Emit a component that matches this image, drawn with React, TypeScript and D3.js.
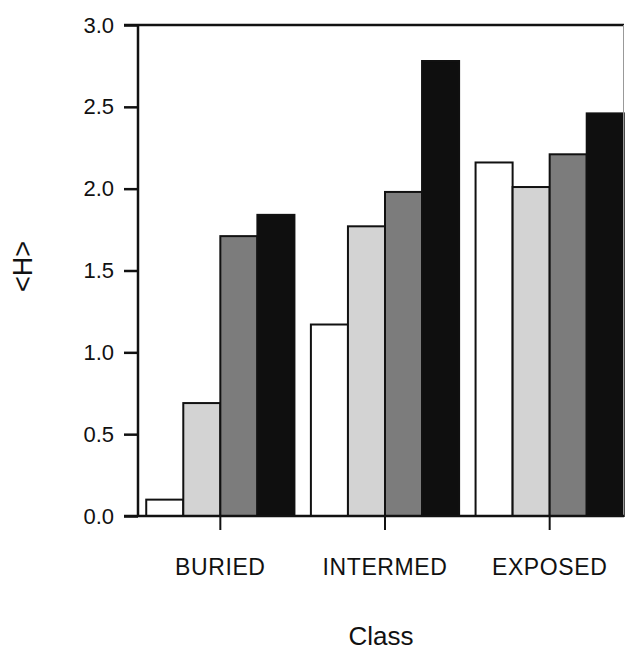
import React, { useEffect, useRef } from 'react';
import * as d3 from 'd3';

const classes = ['BURIED', 'INTERMED', 'EXPOSED'];
const seriesKeys = ['s1', 's2', 's3', 's4'];
const s1 = [0.10, 1.17, 2.16];
const s2 = [0.69, 1.77, 2.01];
const s3 = [1.71, 1.98, 2.21];
const s4 = [1.84, 2.78, 2.46];
const yTicks = [0, 0.5, 1.0, 1.5, 2.0, 2.5, 3.0];
const fills = ['#ffffff', '#d3d3d3', '#7c7c7c', '#0f0f0f'];

const WIDTH = 625;
const HEIGHT = 652;
const MARGIN = { top: 25, left: 138, bottom: 136, right: 1 };
const FONT = '"Liberation Sans", Arial, Helvetica, sans-serif';

const App: React.FC = () => {
  const svgRef = useRef<SVGSVGElement>(null);

  useEffect(() => {
    const svg = d3.select(svgRef.current);
    svg.selectAll('*').remove();

    const bottom = HEIGHT - MARGIN.bottom;
    const right = WIDTH - MARGIN.right;

    const yScale = d3.scaleLinear().domain([0, 3]).range([bottom, MARGIN.top]);
    const x0 = d3.scaleBand<string>()
      .domain(classes)
      .range([MARGIN.left, 632])
      .paddingInner(0.1)
      .paddingOuter(0.05);
    const x1 = d3.scaleBand<string>()
      .domain(seriesKeys)
      .range([0, x0.bandwidth()]);

    const series = [s1, s2, s3, s4];
    const data = classes.map((c, i) => ({
      cls: c,
      values: seriesKeys.map((k, j) => ({ key: k, value: series[j][i], fill: fills[j] })),
    }));

    // Bars
    const groups = svg.append('g').selectAll('g')
      .data(data)
      .enter().append('g')
      .attr('transform', d => `translate(${x0(d.cls)},0)`);

    groups.selectAll('rect')
      .data(d => d.values)
      .enter().append('rect')
      .attr('x', d => x1(d.key)!)
      .attr('y', d => yScale(d.value))
      .attr('width', x1.bandwidth())
      .attr('height', d => bottom - yScale(d.value))
      .attr('fill', d => d.fill)
      .attr('stroke', '#111')
      .attr('stroke-width', 2);

    // Frame lines
    svg.append('line')
      .attr('x1', MARGIN.left - 14).attr('x2', right)
      .attr('y1', MARGIN.top).attr('y2', MARGIN.top)
      .attr('stroke', '#111').attr('stroke-width', 2.5);
    svg.append('line')
      .attr('x1', right - 0.5).attr('x2', right - 0.5)
      .attr('y1', MARGIN.top).attr('y2', bottom)
      .attr('stroke', '#999').attr('stroke-width', 1);

    // Y axis
    const yAxis = d3.axisLeft(yScale)
      .tickValues(yTicks)
      .tickSize(14)
      .tickPadding(10)
      .tickFormat(d3.format('.1f'));
    const yG = svg.append('g')
      .attr('transform', `translate(${MARGIN.left},0)`)
      .call(yAxis);
    yG.select('.domain').remove();
    yG.selectAll('line').attr('stroke', '#111').attr('stroke-width', 2.5);
    yG.selectAll('text')
      .attr('fill', '#111')
      .style('font-family', FONT)
      .style('font-size', '22px');
    svg.append('line')
      .attr('x1', MARGIN.left).attr('x2', MARGIN.left)
      .attr('y1', MARGIN.top).attr('y2', bottom)
      .attr('stroke', '#111').attr('stroke-width', 2.5);

    // X axis
    const xAxis = d3.axisBottom(x0).tickSize(14).tickPadding(29);
    const xG = svg.append('g')
      .attr('transform', `translate(0,${bottom})`)
      .call(xAxis);
    xG.select('.domain').remove();
    xG.selectAll('line').attr('stroke', '#111').attr('stroke-width', 2);
    xG.selectAll('text')
      .attr('fill', '#111')
      .style('font-family', FONT)
      .style('font-size', '23px')
      .style('letter-spacing', '0.6px');
    svg.append('line')
      .attr('x1', MARGIN.left - 14).attr('x2', right)
      .attr('y1', bottom).attr('y2', bottom)
      .attr('stroke', '#111').attr('stroke-width', 2.5);

    // Axis titles
    svg.append('text')
      .attr('x', (MARGIN.left + right) / 2)
      .attr('y', 645)
      .attr('text-anchor', 'middle')
      .attr('fill', '#111')
      .style('font-family', FONT)
      .style('font-size', '26px')
      .text('Class');

    svg.append('text')
      .attr('transform', `translate(32,${(MARGIN.top + bottom) / 2 - 4}) rotate(-90)`)
      .attr('text-anchor', 'middle')
      .attr('fill', '#111')
      .style('font-family', FONT)
      .style('font-size', '27px')
      .text('<H>');
  }, []);

  return (
    <svg
      ref={svgRef}
      width={WIDTH}
      height={HEIGHT}
      style={{ position: 'absolute', left: 0, top: 0, background: '#fff' }}
    ></svg>
  );
};

export default App;
